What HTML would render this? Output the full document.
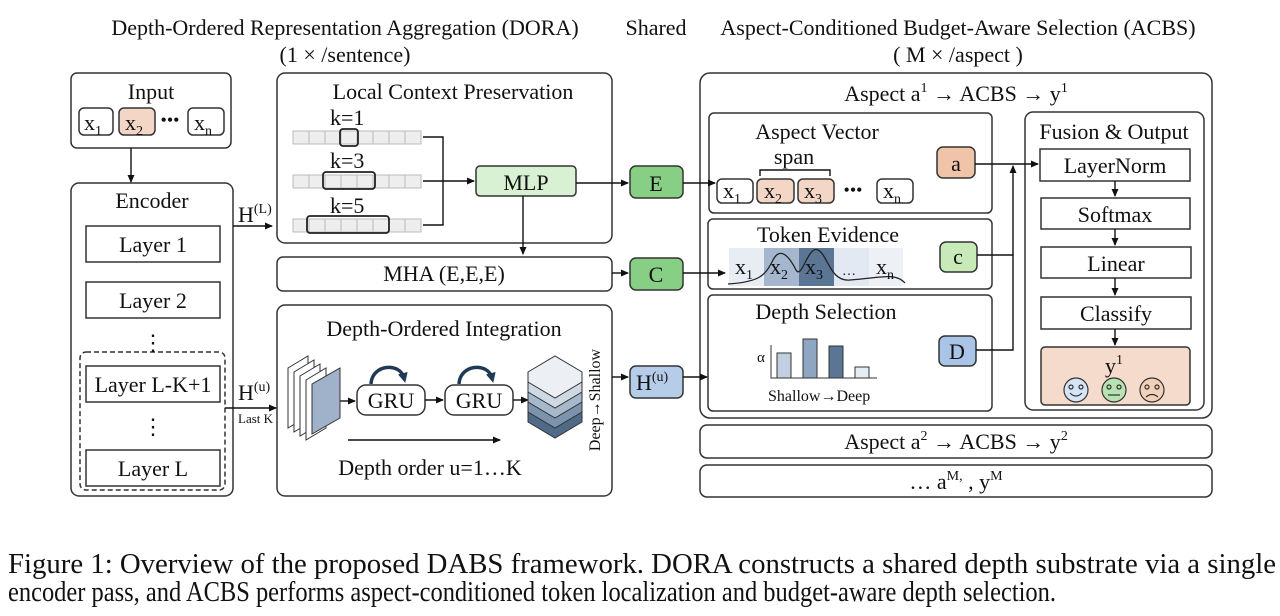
<!DOCTYPE html>
<html><head><meta charset="utf-8"><style>
html,body{margin:0;padding:0;background:#fff;}
svg{display:block;font-family:"Liberation Serif",serif;}
text{fill:#111;}
</style></head><body>
<svg width="1280" height="616" viewBox="0 0 1280 616" xmlns="http://www.w3.org/2000/svg">
<defs>
<marker id="ah" markerWidth="8" markerHeight="8" refX="7" refY="4" orient="auto" markerUnits="userSpaceOnUse">
<path d="M0,0.5 L8,4 L0,7.5 z" fill="#111"/></marker>
<marker id="ah2" markerWidth="10" markerHeight="10" refX="5" refY="5" orient="auto" markerUnits="userSpaceOnUse">
<path d="M0,0 L10,5 L0,10 z" fill="#1e3a55"/></marker>
</defs>
<g font-size="22" text-anchor="middle">
<text x="345" y="35">Depth-Ordered Representation Aggregation (DORA)</text>
<text x="345" y="62">(1 × /sentence)</text>
<text x="656" y="35">Shared</text>
<text x="958" y="35">Aspect-Conditioned Budget-Aware Selection (ACBS)</text>
<text x="958" y="62">( M × /aspect )</text>
</g>
<g fill="none" stroke="#333" stroke-width="1.5">
<rect x="71" y="73" width="160" height="75" rx="6" fill="#fff"/>
<rect x="79" y="108" width="34" height="27" rx="5" fill="#fff"/>
<rect x="119" y="108" width="36" height="27" rx="5" fill="#f3d6c6"/>
<rect x="188" y="108" width="36" height="27" rx="5" fill="#fff"/>
<rect x="71" y="183" width="162" height="313" rx="8"/>
<rect x="86" y="226" width="134" height="36"/>
<rect x="86" y="282" width="134" height="36"/>
<rect x="80" y="352" width="145" height="138" rx="6" stroke-dasharray="5,3"/>
<rect x="86" y="366" width="134" height="36"/>
<rect x="86" y="450" width="134" height="36"/>
<rect x="277" y="73" width="335" height="170" rx="8"/>
<rect x="277" y="257" width="335" height="34" rx="6"/>
<rect x="277" y="305" width="335" height="191" rx="8"/>
<rect x="700" y="73" width="512" height="345" rx="10"/>
<rect x="709" y="113" width="283" height="100" rx="5"/>
<rect x="708" y="219" width="284" height="70" rx="5"/>
<rect x="708" y="295" width="284" height="116" rx="5"/>
<rect x="1025" y="112" width="179" height="298" rx="8"/>
<rect x="1040" y="149" width="150" height="32"/>
<rect x="1041" y="198" width="149" height="31"/>
<rect x="1041" y="247" width="150" height="31"/>
<rect x="1041" y="297" width="150" height="32"/>
<rect x="1041" y="347" width="149" height="58" rx="4" fill="#f5dbcb"/>
<rect x="700" y="425" width="512" height="33" rx="7"/>
<rect x="700" y="465" width="512" height="32" rx="7"/>
<rect x="630" y="166" width="53" height="32" rx="6" fill="#86cf84"/>
<rect x="630" y="258" width="53" height="32" rx="6" fill="#86cf84"/>
<rect x="630" y="366" width="53" height="32" rx="6" fill="#b5cde8"/>
<rect x="476" y="166" width="100" height="30" rx="4" fill="#d8f1d2"/>
<rect x="717" y="179" width="36" height="24" rx="5" fill="#fff"/>
<rect x="757" y="179" width="37" height="24" rx="5" fill="#f3d6c6"/>
<rect x="798" y="179" width="36" height="24" rx="5" fill="#f3d6c6"/>
<rect x="877" y="179" width="36" height="24" rx="5" fill="#fff"/>
<rect x="937" y="147" width="38" height="31" rx="6" fill="#efc4a8"/>
<rect x="940" y="242" width="37" height="30" rx="6" fill="#c8e9b8"/>
<rect x="939" y="336" width="37" height="30" rx="6" fill="#a9c4e6"/>
<rect x="357" y="385" width="68" height="30" rx="9" fill="#fff"/>
<rect x="445" y="385" width="68" height="30" rx="9" fill="#fff"/>
</g>
<g stroke="#bbb" stroke-width="1" fill="#eee">
<g id="strip"><rect x="293" y="131" width="16" height="13"/><rect x="309" y="131" width="16" height="13"/><rect x="325" y="131" width="16" height="13"/><rect x="341" y="131" width="16" height="13"/><rect x="357" y="131" width="16" height="13"/><rect x="373" y="131" width="16" height="13"/><rect x="389" y="131" width="16" height="13"/><rect x="405" y="131" width="16" height="13"/></g>
<use href="#strip" y="44"/><use href="#strip" y="88"/>
</g>
<g fill="none" stroke="#222" stroke-width="1.8">
<rect x="340" y="129" width="18" height="17" rx="3"/>
<rect x="323" y="172" width="52" height="17" rx="3"/>
<rect x="307" y="216" width="82" height="17" rx="3"/>
</g>
<g fill="none" stroke="#111" stroke-width="1.4">
<path d="M423,137 H443 V225 H423"/>
<path d="M423,181 H474" marker-end="url(#ah)"/>
<path d="M131,148 V182" marker-end="url(#ah)"/>
<path d="M233,226 H272" marker-end="url(#ah)"/>
<path d="M225,408 H276" marker-end="url(#ah)"/>
<path d="M576,183 H628" marker-end="url(#ah)"/>
<path d="M523,196 V254" marker-end="url(#ah)"/>
<path d="M612,273 H628" marker-end="url(#ah)"/>
<path d="M612,377 H628" marker-end="url(#ah)"/>
<path d="M683,183 H715" marker-end="url(#ah)"/>
<path d="M683,273 H725" marker-end="url(#ah)"/>
<path d="M683,377 H707" marker-end="url(#ah)"/>
<path d="M975,164 H1038" marker-end="url(#ah)"/>
<path d="M977,255 H1013 V350 H976"/>
<path d="M1013,255 V166" marker-end="url(#ah)"/>
<path d="M1115,181 V196" marker-end="url(#ah)"/>
<path d="M1115,229 V245" marker-end="url(#ah)"/>
<path d="M1115,278 V295" marker-end="url(#ah)"/>
<path d="M1115,329 V345" marker-end="url(#ah)"/>
<path d="M340,401 H355" marker-end="url(#ah)"/>
<path d="M425,400 H443" marker-end="url(#ah)"/>
<path d="M513,400 H528" marker-end="url(#ah)"/>
<path d="M348,440 H500" marker-end="url(#ah)"/>
<path d="M760,176 V170 H830 V176"/>
</g>
<g stroke="#333" stroke-width="1">
<path d="M288,368 l20,-12 v60 l-20,12z" fill="#fff"/>
<path d="M294,372 l20,-12 v60 l-20,12z" fill="#fff"/>
<path d="M300,376 l20,-12 v60 l-20,12z" fill="#fff"/>
<path d="M306,380 l20,-12 v60 l-20,12z" fill="#fff"/>
<path d="M312,384 l28,-16 v50 l-28,16z" fill="#9fb2c9"/>
</g>
<g fill="none" stroke="#1e3a55" stroke-width="3.5">
<path d="M371,384 C372,364 400,362 404,378" marker-end="url(#ah2)"/>
<path d="M459,384 C460,364 488,362 492,378" marker-end="url(#ah2)"/>
</g>
<g stroke="#333" stroke-width="1">
<path d="M528,412 l27,-16 l27,16 v10 l-27,16 l-27,-16z" fill="#506a88"/>
<path d="M528,402 l27,-16 l27,16 v10 l-27,16 l-27,-16z" fill="#7c93ad"/>
<path d="M528,392 l27,-16 l27,16 v10 l-27,16 l-27,-16z" fill="#a6b8cc"/>
<path d="M528,382 l27,-16 l27,16 v10 l-27,16 l-27,-16z" fill="#cfd9e4"/>
<path d="M528,372 l27,-16 l27,16 v10 l-27,16 l-27,-16z" fill="#eceff3"/>
</g>
<rect x="729" y="248" width="35" height="38" fill="#e8edf4"/>
<rect x="764" y="248" width="35" height="38" fill="#a4b7cf"/>
<rect x="799" y="248" width="35" height="38" fill="#5b7594"/>
<rect x="834" y="248" width="35" height="38" fill="#e2e9f2"/>
<rect x="869" y="248" width="34" height="38" fill="#edf1f6"/>
<path d="M728,284 C760,282 765,275 772,262 C780,244 790,258 796,270 C802,280 808,245 818,250 C828,255 830,282 850,280 C880,278 895,272 905,283" fill="none" stroke="#222" stroke-width="1.3"/>
<g stroke="#333" stroke-width="1">
<path d="M771,345 V378 H877" fill="none"/>
<rect x="777" y="353" width="14" height="25" fill="#c2cfe0"/>
<rect x="803" y="339" width="14" height="39" fill="#8fa6c2"/>
<rect x="829" y="346" width="14" height="32" fill="#5b7594"/>
<rect x="855" y="367" width="14" height="11" fill="#e6ecf3"/>
</g>
<g stroke="#333" stroke-width="1.2">
<circle cx="1076" cy="390" r="12" fill="#d7e4f5"/>
<circle cx="1114" cy="390" r="12" fill="#b9e2b2"/>
<circle cx="1152" cy="390" r="12" fill="#f2d1b8"/>
<circle cx="1071" cy="387" r="2" fill="none"/><circle cx="1081" cy="387" r="2" fill="none"/>
<circle cx="1109" cy="387" r="2" fill="none"/><circle cx="1119" cy="387" r="2" fill="none"/>
<circle cx="1147" cy="387" r="2" fill="none"/><circle cx="1157" cy="387" r="2" fill="none"/>
<path d="M1070,393 Q1076,399 1082,393" fill="none"/>
<path d="M1108,395 H1120" fill="none"/>
<path d="M1146,397 Q1152,392 1158,397" fill="none"/>
</g>
<g font-size="22" text-anchor="middle">
<text x="151" y="99">Input</text>
<text x="152" y="208">Encoder</text>
<text x="153" y="252">Layer 1</text>
<text x="153" y="308">Layer 2</text>
<text x="153" y="392">Layer L-K+1</text>
<text x="153" y="476">Layer L</text>
<text x="153" y="350">⋮</text>
<text x="153" y="434">⋮</text>
<text x="453" y="99">Local Context Preservation</text>
<text x="526" y="190">MLP</text>
<text x="444" y="281">MHA (E,E,E)</text>
<text x="444" y="336">Depth-Ordered Integration</text>
<text x="391" y="408">GRU</text>
<text x="479" y="408">GRU</text>
<text x="430" y="475">Depth order u=1…K</text>
<text x="656" y="191">E</text>
<text x="656" y="282">C</text>
<text x="956" y="101">Aspect a<tspan font-size="14" dy="-9">1</tspan><tspan dy="9"> → ACBS → y</tspan><tspan font-size="14" dy="-9">1</tspan></text>
<text x="817" y="139">Aspect Vector</text>
<text x="794" y="164">span</text>
<text x="828" y="242">Token Evidence</text>
<text x="826" y="319">Depth Selection</text>
<text x="1114" y="139">Fusion &amp; Output</text>
<text x="1115" y="173">LayerNorm</text>
<text x="1115" y="222">Softmax</text>
<text x="1116" y="271">Linear</text>
<text x="1116" y="321">Classify</text>
<text x="956" y="171">a</text>
<text x="958" y="264">c</text>
<text x="957" y="359">D</text>
<text x="956" y="449">Aspect a<tspan font-size="14" dy="-9">2</tspan><tspan dy="9"> → ACBS → y</tspan><tspan font-size="14" dy="-9">2</tspan></text>
<text x="956" y="489">… a<tspan font-size="14" dy="-9">M,</tspan><tspan dy="9"> , y</tspan><tspan font-size="14" dy="-9">M</tspan></text>
<text x="853" y="196" font-size="18">•••</text>
<text x="170" y="126" font-size="18">•••</text>
<text x="849" y="275" font-size="14">…</text>
</g>
<g font-size="22">
<text x="84" y="130">x<tspan font-size="14" dy="5">1</tspan></text>
<text x="125" y="130">x<tspan font-size="14" dy="5">2</tspan></text>
<text x="194" y="130">x<tspan font-size="14" dy="5">n</tspan></text>
<text x="723" y="198">x<tspan font-size="14" dy="5">1</tspan></text>
<text x="764" y="198">x<tspan font-size="14" dy="5">2</tspan></text>
<text x="804" y="198">x<tspan font-size="14" dy="5">3</tspan></text>
<text x="883" y="198">x<tspan font-size="14" dy="5">n</tspan></text>
<text x="735" y="274">x<tspan font-size="14" dy="5">1</tspan></text>
<text x="770" y="274">x<tspan font-size="14" dy="5">2</tspan></text>
<text x="805" y="274">x<tspan font-size="14" dy="5">3</tspan></text>
<text x="876" y="274">x<tspan font-size="14" dy="5">n</tspan></text>
<text x="330" y="125">k=1</text>
<text x="330" y="168">k=3</text>
<text x="330" y="213">k=5</text>
<text x="238" y="222">H<tspan font-size="14" dy="-9">(L)</tspan></text>
<text x="238" y="400">H<tspan font-size="14" dy="-9">(u)</tspan></text>
<text x="636" y="390">H<tspan font-size="14" dy="-9">(u)</tspan></text>
<text x="1105" y="373">y<tspan font-size="14" dy="-9">1</tspan></text>
</g>
<text x="238" y="423" font-size="13">Last K</text>
<text x="757" y="362" font-size="15">α</text>
<text x="768" y="401" font-size="16">Shallow→Deep</text>
<text x="0" y="0" font-size="16" text-anchor="middle" transform="translate(600,400) rotate(-90)">Deep→Shallow</text>
<g font-size="28">
<text x="8" y="573" textLength="1268" lengthAdjust="spacingAndGlyphs">Figure 1: Overview of the proposed DABS framework. DORA constructs a shared depth substrate via a single</text>
<text x="8" y="601" textLength="1048" lengthAdjust="spacingAndGlyphs">encoder pass, and ACBS performs aspect-conditioned token localization and budget-aware depth selection.</text>
</g>
</svg>
</body></html>
